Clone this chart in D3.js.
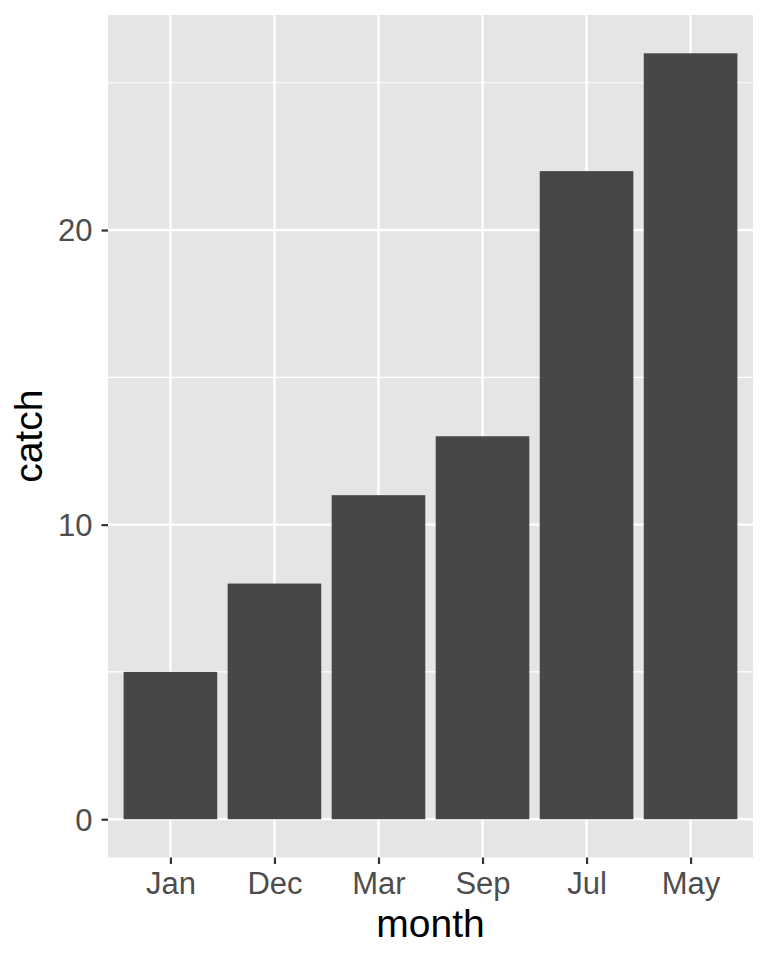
<!DOCTYPE html>
<html>
<head>
<meta charset="utf-8">
<script src="https://cdn.jsdelivr.net/npm/d3@7"></script>
<style>
  body { margin: 0; background: #fff; }
  text { font-family: "Liberation Sans", Arial, sans-serif; }
</style>
</head>
<body>
<div id="chart"></div>
<script>
// data
var months = ["Jan", "Dec", "Mar", "Sep", "Jul", "May"];
var catches = [5, 8, 11, 13, 22, 26];
var yTicks = [0, 10, 20];
var yMinor = [5, 15, 25];

var width = 768, height = 960;
var panel = { left: 108, top: 15, right: 753, bottom: 857.5 };

var svg = d3.select("#chart").append("svg")
  .attr("width", width)
  .attr("height", height);

// ggplot style expansion: 5% on continuous, 0.6 units on discrete
var yMax = d3.max(catches);
var y = d3.scaleLinear()
  .domain([-0.05 * yMax, yMax * 1.05])
  .range([panel.bottom, panel.top]);

var x = d3.scaleLinear()
  .domain([0.4, months.length + 0.6])
  .range([panel.left, panel.right]);

var barW = 0.9 * (x(2) - x(1));

// panel background
svg.append("rect")
  .attr("x", panel.left)
  .attr("y", panel.top)
  .attr("width", panel.right - panel.left)
  .attr("height", panel.bottom - panel.top)
  .attr("fill", "#e5e5e5");

// minor grid
svg.selectAll(".minor")
  .data(yMinor)
  .enter().append("line")
  .attr("x1", panel.left).attr("x2", panel.right)
  .attr("y1", function(d) { return y(d); })
  .attr("y2", function(d) { return y(d); })
  .attr("stroke", "#fff")
  .attr("stroke-width", 1.2);

// major grid
svg.selectAll(".majorY")
  .data(yTicks)
  .enter().append("line")
  .attr("x1", panel.left).attr("x2", panel.right)
  .attr("y1", function(d) { return y(d); })
  .attr("y2", function(d) { return y(d); })
  .attr("stroke", "#fff")
  .attr("stroke-width", 2.4);

svg.selectAll(".majorX")
  .data(months)
  .enter().append("line")
  .attr("y1", panel.top).attr("y2", panel.bottom)
  .attr("x1", function(d, i) { return x(i + 1); })
  .attr("x2", function(d, i) { return x(i + 1); })
  .attr("stroke", "#fff")
  .attr("stroke-width", 2.4);

// bars
svg.selectAll(".bar")
  .data(catches)
  .enter().append("rect")
  .attr("x", function(d, i) { return x(i + 1) - barW / 2; })
  .attr("width", barW)
  .attr("y", function(d) { return y(d); })
  .attr("height", function(d) { return y(0) - y(d); })
  .attr("fill", "#474747");

// y axis
var yAxis = svg.append("g")
  .attr("transform", "translate(" + panel.left + ",0)")
  .call(d3.axisLeft(y).tickValues(yTicks).tickSize(6.5).tickPadding(9));
yAxis.select(".domain").remove();
yAxis.selectAll("line").attr("stroke", "#333").attr("stroke-width", 2.2);
yAxis.selectAll("text")
  .attr("fill", "#4d4d4d")
  .style("font-size", "31px")
  .attr("dy", "0.35em");

// x axis
var xAxis = svg.append("g")
  .attr("transform", "translate(0," + panel.bottom + ")")
  .call(d3.axisBottom(x)
    .tickValues(d3.range(1, months.length + 1))
    .tickFormat(function(d) { return months[d - 1]; })
    .tickSize(6.5).tickPadding(8));
xAxis.select(".domain").remove();
xAxis.selectAll("line").attr("stroke", "#333").attr("stroke-width", 2.2);
xAxis.selectAll("text")
  .attr("fill", "#4d4d4d")
  .style("font-size", "31px")
  .attr("dy", "0.7em");

// axis titles
svg.append("text")
  .attr("x", (panel.left + panel.right) / 2)
  .attr("y", 936.5)
  .attr("text-anchor", "middle")
  .style("font-size", "39px")
  .attr("fill", "#000")
  .text("month");

svg.append("text")
  .attr("transform", "translate(42," + (panel.top + panel.bottom) / 2 + ") rotate(-90)")
  .attr("text-anchor", "middle")
  .style("font-size", "39px")
  .attr("fill", "#000")
  .text("catch");
</script>
</body>
</html>
